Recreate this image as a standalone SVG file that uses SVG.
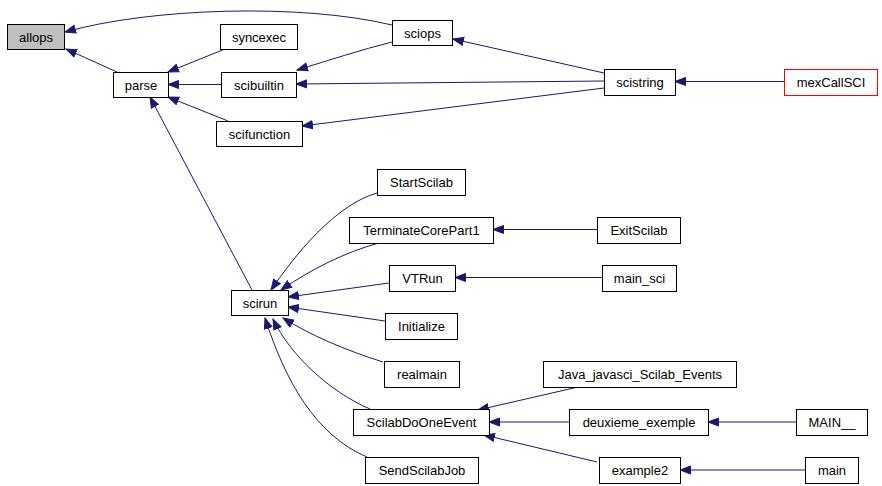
<svg xmlns="http://www.w3.org/2000/svg" width="882" height="486" viewBox="0 0 882 486">
<style>
.n rect{fill:#fff;stroke:#000;stroke-width:1}
.n text{font-family:"Liberation Sans",Arial,sans-serif;font-size:13px;fill:#000;text-anchor:middle}
#allops rect{fill:#bfbfbf}
#mexCallSCI rect{stroke:#ff0000}
.e path{fill:none;stroke:#191970;stroke-width:1;marker-end:url(#ah)}
</style>
<defs>
<marker id="ah" markerUnits="userSpaceOnUse" markerWidth="12" markerHeight="10" refX="11" refY="5" orient="auto">
<path d="M0.5,1 L11,5 L0.5,9 z" fill="#191970" stroke="#191970" stroke-width="1"/>
</marker>
</defs>
<rect width="882" height="486" fill="#fff"/>
<g id="edges" class="e">
<path d="M392,25 C300,3 150,8 65,32"/>
<path d="M117,72 L66,49"/>
<path d="M225,49 L168,72"/>
<path d="M221,84.5 L168,84.5"/>
<path d="M228,121 L168,97"/>
<path d="M252,290 L150,97"/>
<path d="M392,42 C360,50 330,60 297,70"/>
<path d="M604,81 L296,84"/>
<path d="M604,73 L453,39"/>
<path d="M604,88 L302,126"/>
<path d="M784,81.5 L675,81.5"/>
<path d="M377,193 C335,205 295,255 271,290"/>
<path d="M379,243 C345,252 310,270 281,290"/>
<path d="M389,283 L288,297"/>
<path d="M385,321 L288,307"/>
<path d="M383,362 C345,350 310,335 283,318"/>
<path d="M370,409 C330,392 290,355 273,319"/>
<path d="M367,457 C315,435 285,380 265,318"/>
<path d="M597,229.5 L493,229.5"/>
<path d="M602,277.5 L455,277.5"/>
<path d="M578,387 L478,410"/>
<path d="M569,422 L489,422"/>
<path d="M597,462 L484,435"/>
<path d="M796,422 L708,422"/>
<path d="M805,470 L680,470"/>
</g>
<g id="allops" class="n"><rect x="7.5" y="24.5" width="57" height="25"/><text x="36" y="41.5">allops</text></g>
<g id="parse" class="n"><rect x="113.5" y="72.5" width="55" height="25"/><text x="141" y="89.5">parse</text></g>
<g id="syncexec" class="n"><rect x="220.5" y="24.5" width="77" height="25"/><text x="259" y="41.5">syncexec</text></g>
<g id="scibuiltin" class="n"><rect x="221.5" y="72.5" width="75" height="25"/><text x="259" y="89.5">scibuiltin</text></g>
<g id="scifunction" class="n"><rect x="216.5" y="121.5" width="86" height="25"/><text x="259.5" y="138.5">scifunction</text></g>
<g id="sciops" class="n"><rect x="392.5" y="20.5" width="60" height="25"/><text x="422.5" y="37.5">sciops</text></g>
<g id="scistring" class="n"><rect x="604.5" y="69.5" width="71" height="26"/><text x="640" y="87">scistring</text></g>
<g id="mexCallSCI" class="n"><rect x="784.5" y="69.5" width="93" height="26"/><text x="831" y="87">mexCallSCI</text></g>
<g id="StartScilab" class="n"><rect x="377.5" y="169.5" width="88" height="26"/><text x="421.5" y="187">StartScilab</text></g>
<g id="TerminateCorePart1" class="n"><rect x="349.5" y="217.5" width="144" height="26"/><text x="421.5" y="235">TerminateCorePart1</text></g>
<g id="ExitScilab" class="n"><rect x="597.5" y="217.5" width="83" height="26"/><text x="639" y="235">ExitScilab</text></g>
<g id="VTRun" class="n"><rect x="389.5" y="265.5" width="66" height="26"/><text x="422.5" y="283">VTRun</text></g>
<g id="main_sci" class="n"><rect x="602.5" y="265.5" width="74" height="26"/><text x="639.5" y="283">main_sci</text></g>
<g id="scirun" class="n"><rect x="231.5" y="290.5" width="57" height="25"/><text x="260" y="307.5">scirun</text></g>
<g id="Initialize" class="n"><rect x="385.5" y="313.5" width="72" height="26"/><text x="421.5" y="331">Initialize</text></g>
<g id="realmain" class="n"><rect x="384.5" y="361.5" width="75" height="26"/><text x="422" y="379">realmain</text></g>
<g id="Java_javasci_Scilab_Events" class="n"><rect x="543.5" y="361.5" width="193" height="26"/><text x="640" y="379">Java_javasci_Scilab_Events</text></g>
<g id="ScilabDoOneEvent" class="n"><rect x="353.5" y="409.5" width="136" height="26"/><text x="421.5" y="427">ScilabDoOneEvent</text></g>
<g id="deuxieme_exemple" class="n"><rect x="569.5" y="409.5" width="139" height="26"/><text x="639" y="427">deuxieme_exemple</text></g>
<g id="MAIN__" class="n"><rect x="796.5" y="409.5" width="71" height="26"/><text x="832" y="427">MAIN__</text></g>
<g id="SendScilabJob" class="n"><rect x="365.5" y="457.5" width="113" height="26"/><text x="422" y="475">SendScilabJob</text></g>
<g id="example2" class="n"><rect x="599.5" y="457.5" width="81" height="26"/><text x="640" y="475">example2</text></g>
<g id="main" class="n"><rect x="805.5" y="457.5" width="53" height="26"/><text x="832" y="475">main</text></g>
</svg>
